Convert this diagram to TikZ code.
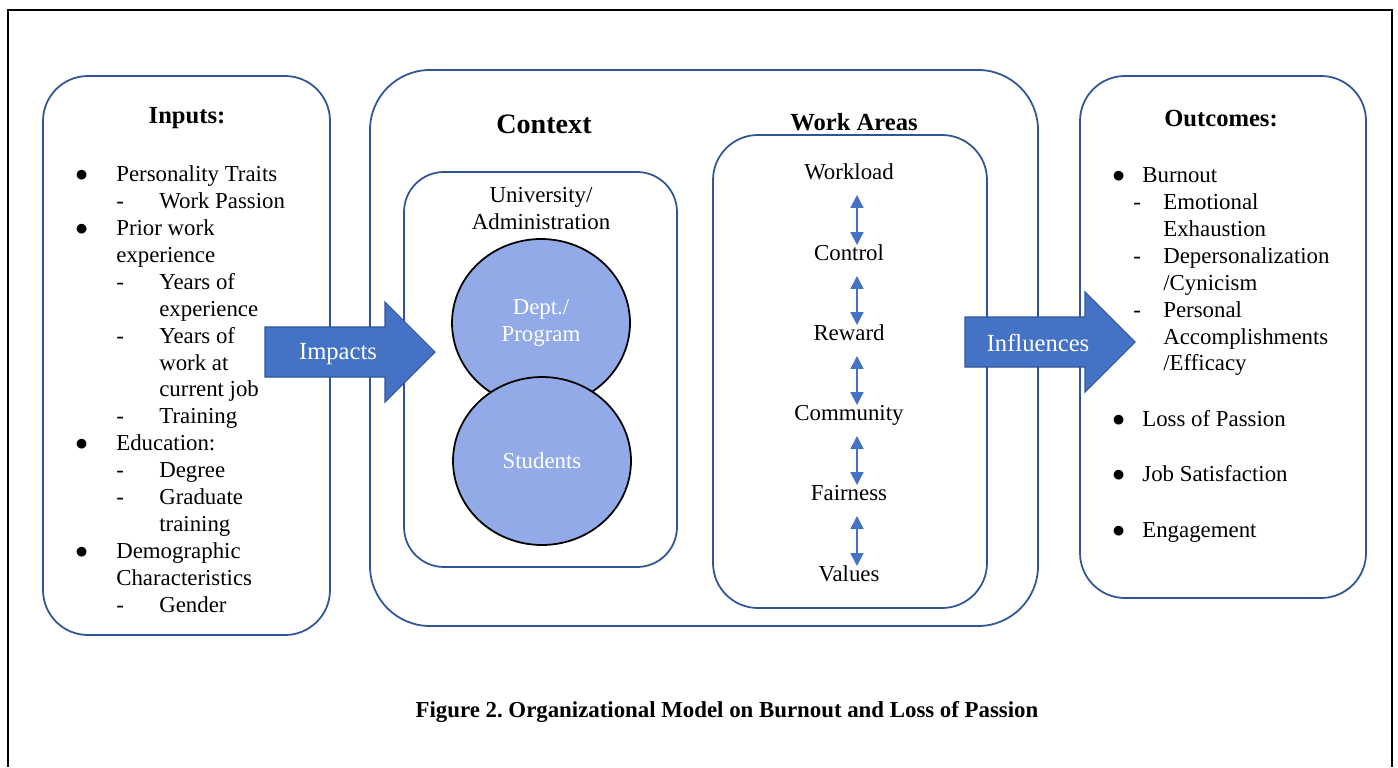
\documentclass[tikz,border=0pt]{standalone}
\usepackage{fontspec}
\usepackage{graphicx}
\setmainfont{Liberation Serif}
\frenchspacing
\usetikzlibrary{arrows.meta,shapes.geometric}
\definecolor{boxblue}{RGB}{47,85,151}
\definecolor{arrowblue}{RGB}{68,114,196}
\definecolor{circblue}{RGB}{146,170,232}
% bullet and dash entries for the two lists
\newcommand{\itm}[1]{\makebox[#1][l]{\scalebox{1.2}{$\bullet$}}}
\newcommand{\sub}[2]{\hspace*{#1}\makebox[#2][l]{-}}

\tikzset{
  roundbox/.style={draw=boxblue, line width=1pt},
  txt/.style={font=\fontsize{13}{15.3}\selectfont, inner sep=0pt},
  head/.style={font=\fontsize{14}{16}\selectfont\bfseries, inner sep=0pt},
  blob/.style={ellipse, draw=black, line width=1pt, fill=circblue, text=white,
    minimum width=3.56cm, minimum height=3.36cm, align=center, inner sep=0pt,
    font=\fontsize{13}{15.3}\selectfont},
  bigarrow/.style={fill=arrowblue, draw=boxblue, line width=0.6pt},
  arrowtxt/.style={text=white, font=\fontsize{14}{16}\selectfont, inner sep=0pt},
  updown/.style={arrowblue, line width=1pt,
    {Triangle[width=2.6mm,length=2.6mm]}-{Triangle[width=2.6mm,length=2.6mm]}}
}

\begin{document}
\begin{tikzpicture}[x=0.02cm, y=-0.02cm]
    \useasboundingbox (0,0) rectangle (1398,767);
    % page frame, open at the bottom
    \draw[line width=1.1pt] (8,767) -- (8,10) -- (1392,10) -- (1392,767);

    % boxes
    \draw[roundbox, rounded corners=0.9cm] (43,76) rectangle (330,635);
    \draw[roundbox, rounded corners=1.2cm] (370,70) rectangle (1038,626);
    \draw[roundbox, rounded corners=0.8cm] (404,172) rectangle (677,567);
    \draw[roundbox, rounded corners=0.9cm] (713,135) rectangle (987,608);
    \draw[roundbox, rounded corners=0.9cm] (1080,76) rectangle (1366,598);

    % inputs (base = last line)
    \node[head, anchor=base] (inputs) at (187,123) {Inputs:};
    \node[txt, anchor=base west, align=left] (inlist) at (75,612) {%
      \itm{0.82cm}Personality Traits\\
      \sub{0.82cm}{0.86cm}Work Passion\\
      \itm{0.82cm}Prior work\\
      \hspace*{0.82cm}experience\\
      \sub{0.82cm}{0.86cm}Years of\\
      \hspace*{1.68cm}experience\\
      \sub{0.82cm}{0.86cm}Years of\\
      \hspace*{1.68cm}work at\\
      \hspace*{1.68cm}current job\\
      \sub{0.82cm}{0.86cm}Training\\
      \itm{0.82cm}Education:\\
      \sub{0.82cm}{0.86cm}Degree\\
      \sub{0.82cm}{0.86cm}Graduate\\
      \hspace*{1.68cm}training\\
      \itm{0.82cm}Demographic\\
      \hspace*{0.82cm}Characteristics\\
      \sub{0.82cm}{0.86cm}Gender};

    % context
    \node[head, font=\fontsize{16}{18}\selectfont\bfseries] (context) at (544,124) {Context};
    \node[txt, align=center, anchor=base] (univ) at (541,229) {University/\\Administration};
    \node[blob] (dept) at (541,323) {Dept./\\Program};
    \node[blob] (stud) at (542,461) {Students};

    % work areas
    \node[head] (areas) at (854,122) {Work Areas};
    \node[txt, anchor=base] (wl) at (849,179) {Workload};
    \node[txt, anchor=base] (ct) at (849,260) {Control};
    \node[txt, anchor=base] (rw) at (849,340) {Reward};
    \node[txt, anchor=base] (cm) at (849,420) {Community};
    \node[txt, anchor=base] (fr) at (849,500) {Fairness};
    \node[txt, anchor=base] (vl) at (849,581) {Values};
    \foreach \a/\b in {wl/ct, ct/rw, rw/cm, cm/fr, fr/vl}
      \draw[updown] ([xshift=0.16cm, yshift=-0.32cm]\a.base)
        -- ([xshift=0.16cm, yshift=0.3cm]\b.base);

    % outcomes (base = last line)
    \node[head] (outcomes) at (1221,119) {Outcomes:};
    \node[txt, anchor=base west, align=left] (outlist) at (1112,537) {%
      \itm{0.6cm}Burnout\\
      \sub{0.42cm}{0.6cm}Emotional\\
      \hspace*{1.02cm}Exhaustion\\
      \sub{0.42cm}{0.6cm}Depersonalization\\
      \hspace*{1.02cm}/Cynicism\\
      \sub{0.42cm}{0.6cm}Personal\\
      \hspace*{1.02cm}Accomplishments\\
      \hspace*{1.02cm}/Efficacy\\[16.2pt]
      \itm{0.6cm}Loss of Passion\\[16.2pt]
      \itm{0.6cm}Job Satisfaction\\[16.2pt]
      \itm{0.6cm}Engagement};

    % block arrows
    \filldraw[bigarrow] (265,327) -- (385,327) -- (385,302) -- (435,352)
      -- (385,402) -- (385,377) -- (265,377) -- cycle;
    \node[arrowtxt] (impacts) at (338,354) {Impacts};
    \filldraw[bigarrow] (965,317) -- (1085,317) -- (1085,292) -- (1135,342)
      -- (1085,392) -- (1085,367) -- (965,367) -- cycle;
    \node[arrowtxt] (influences) at (1038,343) {Influences};

    \node[font=\fontsize{13}{15}\selectfont\bfseries] (caption) at (727,712)
      {Figure 2. Organizational Model on Burnout and Loss of Passion};
\end{tikzpicture}
\end{document}
